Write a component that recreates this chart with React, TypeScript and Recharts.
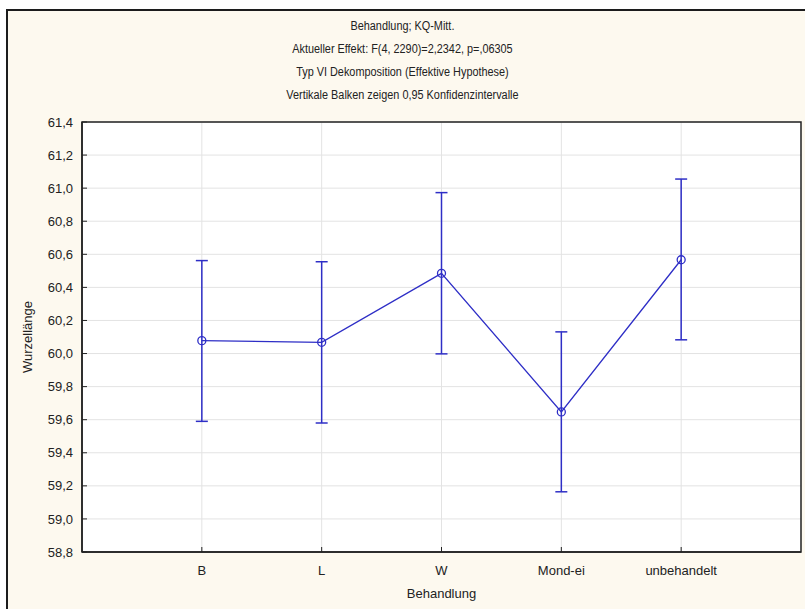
import React from 'react';
import {
  ComposedChart,
  Line,
  XAxis,
  YAxis,
  CartesianGrid,
  ErrorBar,
  ReferenceArea,
} from 'recharts';

const categories = ['B', 'L', 'W', 'Mond-ei', 'unbehandelt'];
const means = [60.078, 60.068, 60.485, 59.647, 60.567];
const lowerCI = [59.59, 59.58, 59.998, 59.164, 60.083];
const upperCI = [60.562, 60.555, 60.973, 60.131, 61.055];
const yTicks = [58.8, 59.0, 59.2, 59.4, 59.6, 59.8, 60.0, 60.2, 60.4, 60.6, 60.8, 61.0, 61.2, 61.4];
const titleLines = [
  'Behandlung; KQ-Mitt.',
  'Aktueller Effekt: F(4, 2290)=2,2342, p=,06305',
  'Typ VI Dekomposition (Effektive Hypothese)',
  'Vertikale Balken zeigen 0,95 Konfidenzintervalle',
];
const xLabel = 'Behandlung';
const yLabel = 'Wurzellänge';

const xTicks = categories.map((_, i) => i + 1);
const data = categories.map((c, i) => ({
  pos: i + 1,
  name: c,
  mean: means[i],
  err: [means[i] - lowerCI[i], upperCI[i] - means[i]],
}));

const BLUE = '#2E2EC6';
const FONT = '"Liberation Sans", Arial, sans-serif';

export default function App() {
  return (
    <div style={{ position: 'absolute', left: 0, top: 0, width: 805, height: 609, background: '#fff', overflow: 'hidden', fontFamily: FONT }}>
      <div style={{ position: 'absolute', left: 6, top: 9, width: 830, height: 640, borderLeft: '2px solid #1c1c1c', borderTop: '2px solid #1c1c1c', background: '#FDF9EF' }} />
      {titleLines.map((t, i) => (
        <div key={i} style={{ position: 'absolute', left: 0, width: 805, top: 19 + i * 23, textAlign: 'center', fontSize: 12.5, color: '#222', lineHeight: '15px', transform: 'scaleX(0.87)', transformOrigin: '402px 0' }}>{t}</div>
      ))}
      <div style={{ position: 'absolute', left: 0, top: 0 }}>
        <ComposedChart width={805} height={609} data={data} margin={{ top: 122, right: 4, bottom: 0, left: 0 }}>
          <CartesianGrid fill="#ffffff" stroke="#e3e3e3" strokeWidth={1} horizontalValues={yTicks} verticalValues={xTicks} />
          <XAxis
            dataKey="pos"
            type="number"
            domain={[0, 6]}
            ticks={xTicks}
            interval={0}
            tickFormatter={(v: number) => categories[v - 1] ?? ''}
            height={57}
            axisLine={{ stroke: '#222', strokeWidth: 1.5 }}
            tickLine={{ stroke: '#222' }}
            tickSize={-5}
            tickMargin={19}
            tick={{ fill: '#222', fontSize: 13, fontFamily: FONT }}
            label={{ value: xLabel, position: 'insideBottom', offset: 11, fill: '#222', fontSize: 13, fontFamily: FONT }}
          />
          <XAxis xAxisId="top" orientation="top" dataKey="pos" type="number" domain={[0, 6]} ticks={xTicks} height={0} mirror axisLine={false} tickLine={{ stroke: '#222' }} tickSize={5} tickFormatter={() => ''} />
          <YAxis
            type="number"
            domain={[58.8, 61.4]}
            ticks={yTicks}
            interval={0}
            width={82}
            tickFormatter={(v: number) => v.toFixed(1).replace('.', ',')}
            axisLine={{ stroke: '#222', strokeWidth: 1.5 }}
            tickLine={{ stroke: '#222' }}
            tickSize={-5}
            tickMargin={14}
            tick={{ fill: '#222', fontSize: 13, fontFamily: FONT }}
            label={{ value: yLabel, angle: -90, position: 'insideLeft', offset: 27, fill: '#222', fontSize: 13, fontFamily: FONT, style: { textAnchor: 'middle' } }}
          />
          <YAxis yAxisId="right" orientation="right" type="number" domain={[58.8, 61.4]} ticks={yTicks} width={0} mirror axisLine={false} tickLine={{ stroke: '#222' }} tickSize={5} tickFormatter={() => ''} />
          <ReferenceArea x1={0} x2={6} y1={58.8} y2={61.4} fill="none" stroke="#222" strokeWidth={1.5} ifOverflow="visible" />
          <Line
            dataKey="mean"
            stroke={BLUE}
            strokeWidth={1.3}
            isAnimationActive={false}
            dot={{ r: 4, fill: 'none', stroke: BLUE, strokeWidth: 1.3 }}
            activeDot={false}
          >
            <ErrorBar dataKey="err" width={6} stroke={BLUE} strokeWidth={1.5} direction="y" isAnimationActive={false} />
          </Line>
        </ComposedChart>
      </div>
    </div>
  );
}
